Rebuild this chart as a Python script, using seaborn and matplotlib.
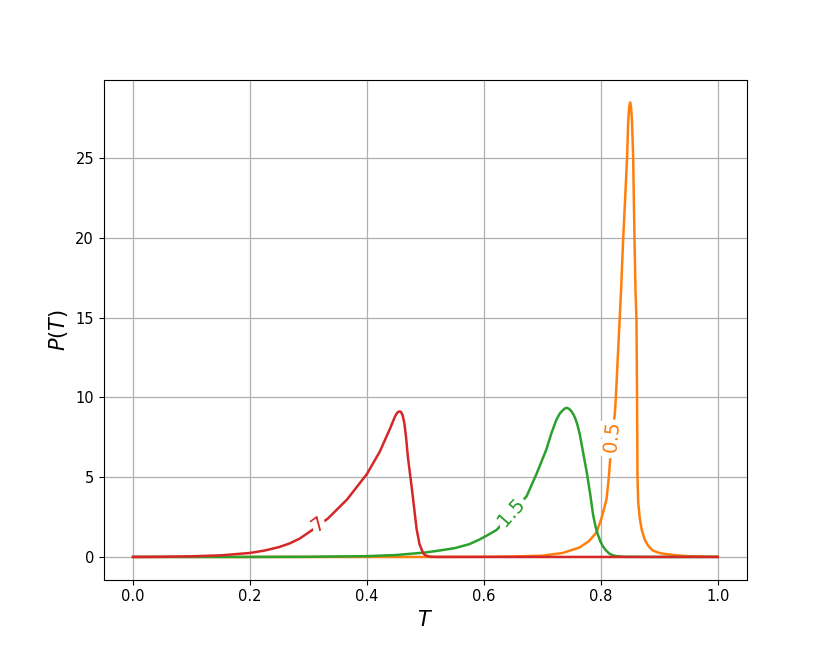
import numpy as np
import pandas as pd
import matplotlib
matplotlib.use("Agg")
import matplotlib.pyplot as plt
import matplotlib.patheffects as pe
import seaborn as sns

# ---- data ----
T_05 = [0.0, 0.5, 0.6, 0.65, 0.7, 0.735, 0.764, 0.78, 0.7926, 0.801, 0.8097, 0.8137,
        0.8164, 0.824, 0.8256, 0.8285, 0.8325, 0.8347, 0.8382, 0.841, 0.845, 0.8467,
        0.8485, 0.8501, 0.8518, 0.8535, 0.8553, 0.8576, 0.8593, 0.861, 0.862, 0.8627,
        0.864, 0.8667, 0.870, 0.875, 0.881, 0.889, 0.9, 0.909, 0.93, 0.95, 1.0]
P_05 = [0.0, 0.0, 0.01, 0.03, 0.08, 0.25, 0.6, 1.0, 1.54, 2.4, 3.6, 4.98,
        6.33, 9.0, 9.9, 12.1, 15.1, 16.75, 19.9, 22.0, 25.1, 27.2,
        28.2, 28.5, 28.2, 27.2, 25.1, 20.0, 16.75, 14.9, 9.9, 5.1,
        3.4, 2.4, 1.7, 1.1, 0.7, 0.4, 0.25, 0.19, 0.1, 0.05, 0.01]

T_15 = [0.0, 0.2, 0.3, 0.4, 0.45, 0.5, 0.52, 0.55, 0.575, 0.593, 0.608, 0.622, 0.647,
        0.673, 0.69, 0.707, 0.715, 0.724, 0.73, 0.735, 0.739, 0.742, 0.746, 0.75,
        0.754, 0.757, 0.76, 0.764, 0.77, 0.776, 0.782, 0.787, 0.791, 0.795, 0.799,
        0.803, 0.809, 0.815, 0.821, 0.827, 0.84, 0.9, 1.0]
P_15 = [0.0, 0.0, 0.01, 0.05, 0.12, 0.28, 0.38, 0.55, 0.8, 1.1, 1.4, 1.7, 2.7,
        3.8, 5.2, 6.75, 7.7, 8.6, 9.0, 9.2, 9.32, 9.35, 9.28, 9.12,
        8.88, 8.62, 8.28, 7.7, 6.5, 5.3, 3.9, 2.6, 1.9, 1.4, 1.0,
        0.7, 0.4, 0.2, 0.1, 0.05, 0.01, 0.0, 0.0]

T_7 = [0.0, 0.05, 0.1, 0.15, 0.2, 0.225, 0.25, 0.268, 0.285, 0.303, 0.333, 0.366, 0.4,
       0.422, 0.439, 0.448, 0.452, 0.455, 0.458, 0.461, 0.464, 0.467, 0.47, 0.477,
       0.481, 0.485, 0.49, 0.496, 0.5, 0.505, 0.51, 0.52, 0.6, 0.8, 1.0]
P_7 = [0.0, 0.01, 0.04, 0.1, 0.25, 0.4, 0.62, 0.85, 1.15, 1.6, 2.4, 3.6, 5.2,
       6.6, 8.0, 8.8, 9.05, 9.12, 9.1, 8.9, 8.4, 7.5, 6.3, 4.25,
       3.0, 1.75, 0.8, 0.25, 0.1, 0.04, 0.01, 0.0, 0.0, 0.0, 0.0]

series_names = ["0.5", "1.5", "7"]
series_T = [T_05, T_15, T_7]
series_P = [P_05, P_15, P_7]
series_colors = ["#ff7f0e", "#2ca02c", "#d62728"]
label_T = [0.8195, 0.647, 0.317]

# ---- figure ----
fig, ax = plt.subplots(figsize=(8.3, 6.64), dpi=100)
fig.subplots_adjust(left=0.125, right=0.9, top=0.88, bottom=0.127)

for name, T, P, c in zip(series_names, series_T, series_P, series_colors):
    df = pd.DataFrame({"T": T, "P": P})
    sns.lineplot(data=df, x="T", y="P", ax=ax, color=c, linewidth=1.8,
                 estimator=None, sort=True)

ax.set_xlim(-0.05, 1.05)
ax.set_ylim(-1.425, 29.925)
ax.set_xticks([0.0, 0.2, 0.4, 0.6, 0.8, 1.0])
ax.set_yticks([0, 5, 10, 15, 20, 25])
ax.grid(True, color="#b0b0b0", linewidth=0.9)
ax.set_axisbelow(True)
ax.tick_params(labelsize=10.5)
ax.set_xlabel("$T$", fontsize=15)
ax.set_ylabel("$P(T)$", fontsize=15)

# inline labels along curves
for name, T, P, c, lt in zip(series_names, series_T, series_P, series_colors, label_T):
    ly = np.interp(lt, T, P)
    d = 0.004
    p1 = ax.transData.transform((lt - d, np.interp(lt - d, T, P)))
    p2 = ax.transData.transform((lt + d, np.interp(lt + d, T, P)))
    ang = np.degrees(np.arctan2(p2[1] - p1[1], p2[0] - p1[0]))
    ax.text(lt, ly, name, color=c, fontsize=14, rotation=ang,
            rotation_mode="anchor", ha="center", va="center", zorder=5,
            path_effects=[pe.withStroke(linewidth=8, foreground="white")])

fig.savefig("out.png", dpi=100)
